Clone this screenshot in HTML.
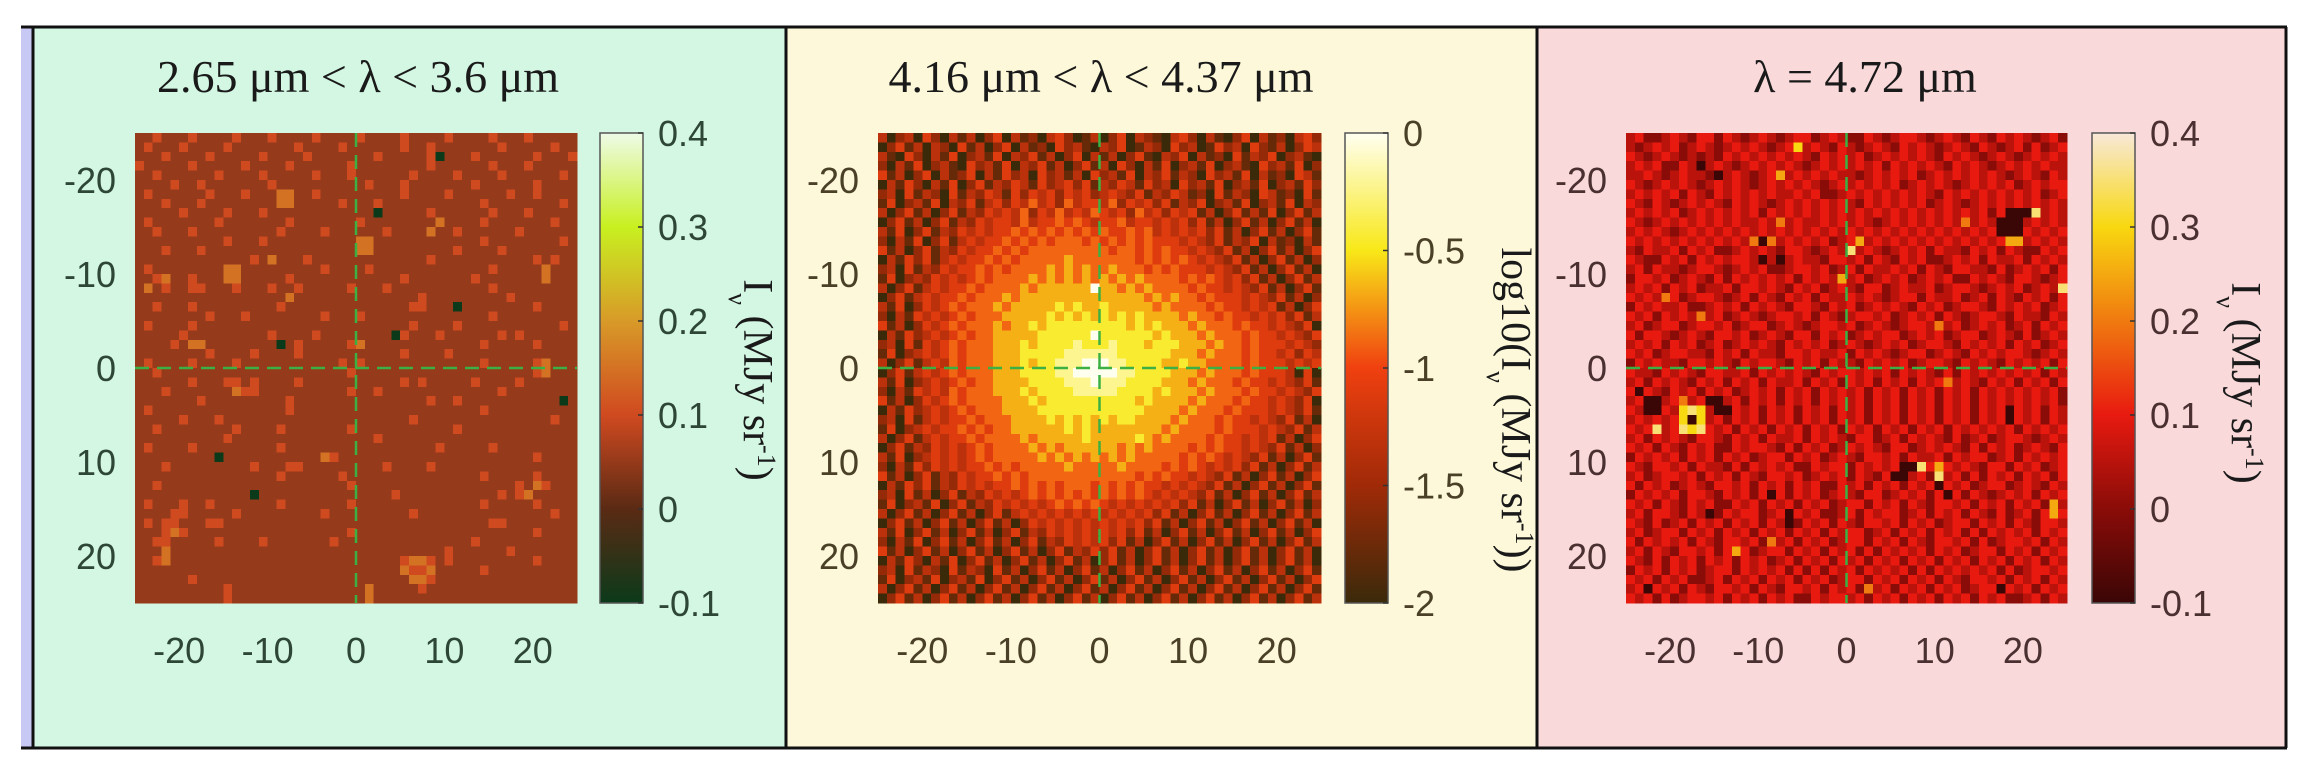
<!DOCTYPE html>
<html><head><meta charset="utf-8"><style>
html,body{margin:0;padding:0;background:#fff;}
svg{display:block;}
</style></head><body>
<svg id="fig" width="2318" height="770" viewBox="0 0 2318 770" xmlns="http://www.w3.org/2000/svg">
<defs>
<linearGradient id="cm1" x1="0" y1="1" x2="0" y2="0"><stop offset="0" stop-color="#0b3a1a"/><stop offset="0.2" stop-color="#5a2a14"/><stop offset="0.4" stop-color="#d04a20"/><stop offset="0.6" stop-color="#d89a28"/><stop offset="0.8" stop-color="#c8f020"/><stop offset="1" stop-color="#eefbe8"/></linearGradient>
<linearGradient id="cm2" x1="0" y1="1" x2="0" y2="0"><stop offset="0" stop-color="#3a2a0a"/><stop offset="0.25" stop-color="#a02a08"/><stop offset="0.5" stop-color="#f04010"/><stop offset="0.75" stop-color="#f8e818"/><stop offset="1" stop-color="#fffff0"/></linearGradient>
<linearGradient id="cm3" x1="0" y1="1" x2="0" y2="0"><stop offset="0" stop-color="#3a0606"/><stop offset="0.2" stop-color="#8a0c08"/><stop offset="0.4" stop-color="#e81a10"/><stop offset="0.6" stop-color="#f07a10"/><stop offset="0.8" stop-color="#f8d810"/><stop offset="1" stop-color="#f8e8d8"/></linearGradient>
</defs>
<rect x="21" y="28" width="12" height="720" fill="#c8c8f4"/>
<rect x="33" y="28" width="753" height="720" fill="#d3f7e3"/>
<rect x="786" y="28" width="751" height="720" fill="#fcf8d9"/>
<rect x="1537" y="28" width="749" height="720" fill="#f9d9da"/>
<g stroke="#111" stroke-width="3">
<line x1="21" y1="27" x2="2287" y2="27"/><line x1="21" y1="748" x2="2287" y2="748"/>
<line x1="33" y1="27" x2="33" y2="748"/><line x1="786" y1="27" x2="786" y2="748"/>
<line x1="1537" y1="27" x2="1537" y2="748"/><line x1="2286" y1="27" x2="2286" y2="748"/>
</g>
<g id="plots"></g>
</svg>
<script>
// ---- data ----
const xTicks = [-20, -10, 0, 10, 20];
const yTicks = [-20, -10, 0, 10, 20];
const axisMin = -25, axisMax = 25;
const cb1Ticks = [0.4, 0.3, 0.2, 0.1, 0, -0.1];
const cb1Labels = ["0.4", "0.3", "0.2", "0.1", "0", "-0.1"];
const cb2Ticks = [0, -0.5, -1, -1.5, -2];
const cb2Labels = ["0", "-0.5", "-1", "-1.5", "-2"];
const cb3Ticks = [0.4, 0.3, 0.2, 0.1, 0, -0.1];
const cb3Labels = ["0.4", "0.3", "0.2", "0.1", "0", "-0.1"];
// pixel values encoded as digits 0-9 (row = y from -25 to 24, col = x from -25 to 24)
const p1Rows = [
"33433343333433343333433334333343333433334333433333","34333433334333333343333433333343343333333433333433",
"33343333433333433334333333343333340333433333343334","43333343333343333433333343333333343333334333433333",
"33433333343333433333433343333334333343333433333343","33334334333333343333333333433343333333433333343333",
"34333333433343335533433333333343333433333343343333","33343334333333335533333433343333333333343333333343",
"33333433334333433333333333303333343333334333433333","34333333343333333433333334333333335333343333333433",
"33433343333333334333343333334333353343333334333333","33333333334333433333333335533333333333343333333343",
"33343334333333333333333335533333333343333433333333","33333333333334353334333333333333343333333333343433",
"34333333335533333333343333433333333333334333335333","33453343335533333433333333333343333333433333335333",
"35343344333433343343333343334333333333334333333333","33333333333333333533333333333333433333333343333333",
"33433343333333334333333333333334433303333333343333","33333333433343333333343334333333333333334333333333",
"34333343333333333333333333333334333343333333333343","33333433333333343333433333333043334333333434333333",
"33334355333333330343333345333333333333343333343333","33333333433334333343333333333343333433333333333333",
"34333343333433333333333434333333333333343333345333","33433333333333333333333343333333333333333333345333",
"33333343334434333343333333333343433333433334333333","33343333333544333333333343343333333333333433333333",
"33333334333333333433333333333333343343333333333303","34333333333333333433333333333333333333343333333333",
"33333433343333333333333333333334333333333333333433","33433333333433334333333343333333333343333333333333",
"33333333334333333333333333343333333333333333333333","34333343333333334333333333333333334333334333333333",
"33333333303333333333354333333333333333333333343333","33343333333334333443333333334333343333333333333333",
"33333333333333334333333433333333333333343333343333","33433333333333333333333343333333333333333334354333",
"33333333333330333333333333333433333333333434533333","34333433433333334333333343333333333333343333343333",
"33334433333433333333343333333334333333333333333433","34344333443333333333333333333333333333334433333333",
"33345433333333333333333343333333333333333333343333","33443333343333433333334333333333333333433333333333",
"33353333333333333333333333333333333433333343333333","33453333333333333333333333333345543433333333343333",
"33333333333333333333333333333354453333343333333333","33333343333333333333333333333335543333333333333333",
"33333333334333333333333333533333433333333333333333","33333333334333333333333333533333333333333333333333"];
const p2Rows = [
"30230420313024031203420130240321034203102403120342","02413032041302403120423103240132042301423042130243",
"31042031402314032413024031302410324031204132402310","20314023104231403241302413042031402314023104231402",
"41302403124031423042313042314032413204231403120431","03142031402413243142342413243142304231402314023142",
"23041320413243142434243423432413243120413204312041","14023140324134243534253443524342413240231402314032",
"30241302413243435243534354342534243413024131402413","02413024132434435344545434453443434241302413024130",
"31402413243434454545454545445453434342413024130241","20314024134344545454555454545454443432413240312031",
"41302413243445454555555555455454544343241302413024","03142413434454545555565555555454545434324130241302",
"23041324344545455556565655655545454443432413024130","14023243434545555656565656565655554545434241302413",
"30241343445455556566666696656565555454434324130241","02413434454555656666666666666656565545444343241302",
"31402434545556566666767667666665655554544343413024","20314343454555666667676767676766665655454434342413",
"41302434545556566767777777776767666565554544343240","03142343454556666677777797777776766656555454434324",
"23041434545556667677778777877767776665655454443432","14023434545556667777788888877777766656555454434243",
"30241343545556667677888999887777667665555454443434","02413434545556667777889999988777766656555454443040",
"31402343454556666777788898887777666565554544343241","20314343545556667677778888877776766656555454434324",
"41302434545555666767777777777676666565554544343240","03142343454555666677777777777766665655545444343241",
"23041343445455566667676767677666656555454434324130","14023434454545566666676766666666565555454443432413",
"30241343445455556566666766666765655554544343413024","02413243434545555656566666656565555454544343241302",
"31402343434545555565656565656555554545434324130241","20314243434454545555565555565555454543434241302413",
"41302413243445454555555555555454544343241302413024","03142413243434454545455545454544343432413024130241",
"23041302413243434545454545454543434324130241302413","14023140241324343434545454343434342413024130241302",
"30241302413024134343434343434342413024130241302413","02413024130241302434343434343424130241302413024130",
"31402413024130241324343434342413024130241302413024","20314024130241302413243434241302413024130241302413",
"41302413024130241302413242413024130241302413024130","03142031402413024130241302413024130241302413024130",
"23041320413204130241302413024130241302413024130241","14023140231402413024130241302413024130241302413024",
"30241302413024130241302413024130241302413024130241","02413024130241302413024130241302413024130241302413"];
const p3Rows = [
"34223432442432343234423432243234432343243243432342","32343423432343432348343243234324343234324323424234",
"43234323232434343434324343423434343243432343234343","34342243034323434343234343434243434324343234343433",
"33432343320343234734343433234343423434343432343243","43234343234343234343432343434342343432343434234344",
"34343424324343434334342234343434343243434343434234","43243234343243432343434343243434342343234343434343",
"34343423434343424343434343434343434343434240009343","43234343434343343634334343432343434343634300034343",
"34343234343434343434343434343434343434343400043434","43434343434343606343434234734343434343434347734343",
"32433424342234343244323439343234342433243424322434","43224342434344303034332443424324342234342433424343",
"34243323443234342234434234243343424324433242343424","24434234324243434342434373423434234342243432443234",
"34342434233424434324342343244234334234432343423439","43436423443234243243424334343234424334234243243424",
"24343342234342434324432434234343243423443243434234","43424343634234323443424323443423434243234432433243",
"34234423443423442343234434234323443634234342342434","42443234324434234324424342343442343423442343242343",
"34342434234234343243434234323434234432434342434234","43423443324342433244343342434323442343243434432343",
"24343324434324344324342433243434234432434324343424","43324343244334243434324344343424343242434343434243",
"34243432434243424334243424342434243463432434243424","40432434243423434243424343424342434243424343434342",
"34003463400342434243424343424342434243424343434342","43004389830043424342434243424342434243424340434243",
"34343480834243424342434243424342434243424340434243","43493498943424342434243424342434243424343434243434",
"34243432443243424334243432442342434324234234432343","43424324342243443242434234343244234343242434234324",
"24343424342434234424342343244342433424344234243434","43244342433242434342243442434340094743432442434234",
"34234434243424324434234342432400342934242434243424","42434234324434243424342243424342434043423442343243",
"24343424432434240424342343244234342404243234342434","43424324342243424342434234424342432443424342434273",
"34244324302434423404342234243442342434243242342474","43242342434243424302434243244342434234424342432443",
"34234424342434243424342434423424342434242434342434","42434342432443426342434234424342432443424234434243",
"34243244342474234424342434242434342434234424342434","43242434243424342342434243424342434243424342434243",
"24342434234424343424242434243434242434343424234434","43424342234243424342434234424342434243244342434243",
"34043424324434243244342434263424342434234404342434","43424234434243424342243443424342434243424342234243"];

// ---- rendering ----
const NS = "http://www.w3.org/2000/svg";
const root = document.getElementById("plots");
function mk(tag, attrs, parent) {
  const e = document.createElementNS(NS, tag);
  for (const k in attrs) e.setAttribute(k, attrs[k]);
  (parent || root).appendChild(e);
  return e;
}
function hex(c){return [parseInt(c.slice(1,3),16),parseInt(c.slice(3,5),16),parseInt(c.slice(5,7),16)];}
function cmap(stops, t){
  t=Math.max(0,Math.min(1,t));
  for(let i=0;i<stops.length-1;i++){
    const a=stops[i],b=stops[i+1];
    if(t<=b[0]){const f=(t-a[0])/(b[0]-a[0]);const ca=hex(a[1]),cb=hex(b[1]);
      return "rgb("+ca.map((v,j)=>Math.round(v+(cb[j]-v)*f)).join(",")+")";}
  }
  return stops[stops.length-1][1];
}
const stops1=[[0,"#0b3a1a"],[0.2,"#5a2a14"],[0.4,"#d04a20"],[0.6,"#d89a28"],[0.8,"#c8f020"],[1,"#eefbe8"]];
const stops2=[[0,"#3a2a0a"],[0.25,"#a02a08"],[0.5,"#f04010"],[0.75,"#f8e818"],[1,"#fffff0"]];
const stops3=[[0,"#3a0606"],[0.2,"#8a0c08"],[0.4,"#e81a10"],[0.6,"#f07a10"],[0.8,"#f8d810"],[1,"#f8e8d8"]];

const panels = [
 {id:"panel-1", rows:p1Rows, stops:stops1, grad:"cm1", vmin:-0.1, vmax:0.4, dmin:-0.1, dstep:0.05,
  hx:135, hw:442, cbx:600, cbl:658, labx:744, laby:380, tx:358, tcol:"#2e4636",
  title:"2.65 μm < λ < 3.6 μm", cbT:cb1Ticks, cbL:cb1Labels, log:false},
 {id:"panel-2", rows:p2Rows, stops:stops2, grad:"cm2", vmin:-2, vmax:0, dmin:-2, dstep:2/9,
  hx:878, hw:443, cbx:1345, cbl:1403, labx:1502, laby:410, tx:1101, tcol:"#4a4028",
  title:"4.16 μm < λ < 4.37 μm", cbT:cb2Ticks, cbL:cb2Labels, log:true},
 {id:"panel-3", rows:p3Rows, stops:stops3, grad:"cm3", vmin:-0.1, vmax:0.4, dmin:-0.1, dstep:0.05,
  hx:1626, hw:441, cbx:2092, cbl:2150, labx:2232, laby:383, tx:1865, tcol:"#4a3030",
  title:"λ = 4.72 μm", cbT:cb3Ticks, cbL:cb3Labels, log:false}
];
const HY=133, HH=470, CBW=43;

panels.forEach(p=>{
  const g = mk("g",{});
  
  
  const xs = v => p.hx + (v-axisMin)/(axisMax-axisMin)*p.hw;
  const ys = v => HY + (v-axisMin)/(axisMax-axisMin)*HH;
  const t = mk("text",{x:p.tx,y:92,"text-anchor":"middle","font-family":"Liberation Serif, serif","font-size":46,fill:"#1a1a1a"},g);
  t.textContent = p.title;
  
  
  const hm = mk("g",{"shape-rendering":"crispEdges"},g);
  
  
  const n = 50;
  for(let r=0;r<n;r++){
    const row = p.rows[r] || p.rows[p.rows.length-1];
    for(let c=0;c<n;c++){
      const d = parseInt(row[Math.min(c,row.length-1)],10);
      const val = p.dmin + d*p.dstep;
      const col = cmap(p.stops,(val-p.vmin)/(p.vmax-p.vmin));
      const x0=xs(axisMin+c), x1=xs(axisMin+c+1), y0=ys(axisMin+r), y1=ys(axisMin+r+1);
      const cell = mk("rect",{x:x0.toFixed(2),y:y0.toFixed(2),width:(x1-x0+0.6).toFixed(2),height:(y1-y0+0.6).toFixed(2),fill:col},hm);
      
      
    }
  }
  const cl1 = mk("line",{x1:xs(0),y1:HY,x2:xs(0),y2:HY+HH,stroke:"#3cb043","stroke-width":2.5,"stroke-dasharray":"14 8"},g);
  
  
  const cl2 = mk("line",{x1:p.hx,y1:ys(0),x2:p.hx+p.hw,y2:ys(0),stroke:"#3cb043","stroke-width":2.5,"stroke-dasharray":"14 8"},g);
  
  
  yTicks.forEach(v=>{
    const e = mk("text",{x:p.hx-19,y:ys(v)+13,"text-anchor":"end","font-family":"Liberation Sans, sans-serif","font-size":36,fill:p.tcol},g);
    e.textContent = String(v);
    
    
  });
  xTicks.forEach(v=>{
    const e = mk("text",{x:xs(v),y:663,"text-anchor":"middle","font-family":"Liberation Sans, sans-serif","font-size":36,fill:p.tcol},g);
    e.textContent = String(v);
    
    
  });
  const cb = mk("rect",{x:p.cbx,y:HY,width:CBW,height:HH,fill:"url(#"+p.grad+")",stroke:"#555","stroke-width":1.5},g);
  
  
  const cys = v => HY + (p.vmax - v)/(p.vmax-p.vmin)*HH;
  p.cbT.forEach((v,i)=>{
    const tk = mk("line",{x1:p.cbx+CBW-5,y1:cys(v),x2:p.cbx+CBW,y2:cys(v),stroke:"#333","stroke-width":1.5},g);
    
    
    const e = mk("text",{x:p.cbl,y:cys(v)+13,"font-family":"Liberation Sans, sans-serif","font-size":36,fill:p.tcol},g);
    e.textContent = p.cbL[i];
    
    
  });
  const lab = mk("text",{transform:"translate("+p.labx+","+p.laby+") rotate(90)","text-anchor":"middle","font-family":"Liberation Serif, serif","font-size":42,fill:"#1a1a1a"},g);
  
  
  const parts = p.log ? [["log10(I",0],["ν",-1],[" (MJy sr",0],["-1",1],["))",0]]
                      : [["I",0],["ν",-1],[" (MJy sr",0],["-1",1],[")",0]];
  parts.forEach(([s,k])=>{
    const ts = mk("tspan", k===0?{}:{"font-size":26,"baseline-shift":k>0?"super":"sub"}, lab);
    ts.textContent = s;
  });
});
</script>
</body></html>
